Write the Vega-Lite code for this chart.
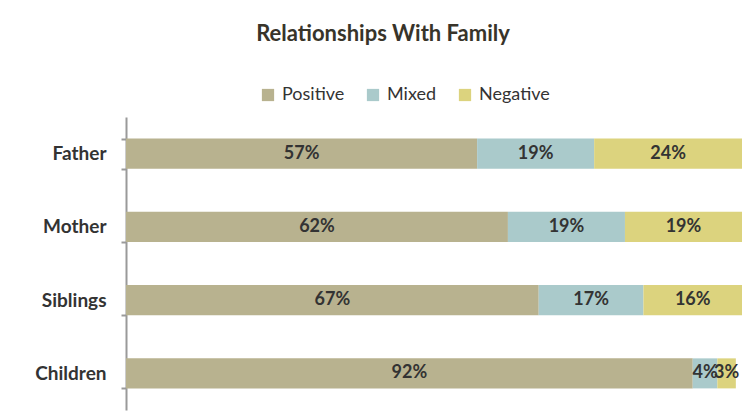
{
  "$schema": "https://vega.github.io/schema/vega-lite/v6.json",
  "width": 616,
  "height": 293,
  "autosize": {"type": "none"},
  "padding": {"left": 126, "top": 117, "right": 12, "bottom": 9},
  "background": "white",
  "title": {
    "text": "Relationships With Family",
    "font": "Lato",
    "fontSize": 22,
    "fontWeight": "bold",
    "color": "#38342a",
    "anchor": "middle",
    "frame": "group",
    "dx": -51,
    "offset": 40
  },
  "data": {
    "values": [
      {"person": "Father", "category": "Positive", "k": 1, "value": 0.57},
      {"person": "Father", "category": "Mixed", "k": 2, "value": 0.19},
      {"person": "Father", "category": "Negative", "k": 3, "value": 0.24},
      {"person": "Mother", "category": "Positive", "k": 1, "value": 0.62},
      {"person": "Mother", "category": "Mixed", "k": 2, "value": 0.19},
      {"person": "Mother", "category": "Negative", "k": 3, "value": 0.19},
      {"person": "Siblings", "category": "Positive", "k": 1, "value": 0.67},
      {"person": "Siblings", "category": "Mixed", "k": 2, "value": 0.17},
      {"person": "Siblings", "category": "Negative", "k": 3, "value": 0.16},
      {"person": "Children", "category": "Positive", "k": 1, "value": 0.92},
      {"person": "Children", "category": "Mixed", "k": 2, "value": 0.04},
      {"person": "Children", "category": "Negative", "k": 3, "value": 0.03}
    ]
  },
  "transform": [
    {"stack": "value", "groupby": ["person"], "sort": [{"field": "k", "order": "ascending"}], "as": ["x0", "x1"]},
    {"calculate": "(datum.x0 + datum.x1) / 2", "as": "xmid"}
  ],
  "encoding": {
    "y": {
      "field": "person",
      "type": "nominal",
      "sort": ["Father", "Mother", "Siblings", "Children"],
      "scale": {"paddingInner": 0.59, "paddingOuter": 0.295},
      "axis": {
        "title": null,
        "tickBand": "extent",
        "domainColor": "#9a9a9a",
        "domainWidth": 2,
        "tickColor": "#9a9a9a",
        "tickWidth": 2,
        "tickSize": 5,
        "labelPadding": 15,
        "labelFont": "Lato",
        "labelFontSize": 19,
        "labelFontWeight": "bold",
        "labelColor": "#333333"
      }
    }
  },
  "layer": [
    {
      "mark": {"type": "bar"},
      "encoding": {
        "x": {
          "field": "x0",
          "type": "quantitative",
          "scale": {"domain": [0, 1], "nice": false},
          "axis": null
        },
        "x2": {"field": "x1"},
        "color": {
          "field": "category",
          "type": "nominal",
          "scale": {
            "domain": ["Positive", "Mixed", "Negative"],
            "range": ["#b8b28f", "#aacacb", "#dcd37e"]
          },
          "legend": {
            "title": null,
            "orient": "none",
            "direction": "horizontal",
            "legendX": 133,
            "legendY": -31,
            "symbolType": "square",
            "symbolSize": 150,
            "symbolStrokeWidth": 0,
            "labelFont": "Lato",
            "labelFontSize": 18,
            "labelColor": "#333333",
            "labelOffset": 5,
            "columnPadding": 19
          }
        }
      }
    },
    {
      "mark": {"type": "text", "font": "Lato", "fontSize": 18, "fontWeight": "bold", "color": "#333333", "align": "center", "baseline": "middle"},
      "encoding": {
        "x": {"field": "xmid", "type": "quantitative"},
        "text": {"field": "value", "type": "quantitative", "format": ".0%"}
      }
    }
  ],
  "config": {
    "view": {"stroke": null}
  }
}
